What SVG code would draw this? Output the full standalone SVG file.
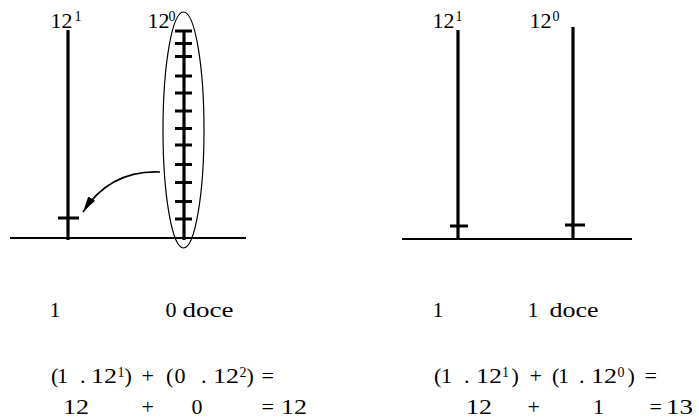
<svg xmlns="http://www.w3.org/2000/svg" width="699" height="418" viewBox="0 0 699 418">
<style>
text{font-family:Liberation Serif,Times New Roman,DejaVu Serif,serif;fill:#000}
.t{font-size:22px}
.s{font-size:14px}
.pole{stroke:#000;stroke-width:3.2;fill:none;stroke-linecap:butt}
.tick{stroke:#000;stroke-width:3;fill:none}
.base{stroke:#000;stroke-width:2;fill:none}
.con{stroke:#000;stroke-width:1.6;fill:none}
</style>
<defs>
<marker id="ah" markerUnits="userSpaceOnUse" markerWidth="18" markerHeight="10" refX="16" refY="4" orient="auto">
<path d="M0,0 L16,4 L0,8 z" fill="#000"/>
</marker>
</defs>
<rect width="699" height="418" fill="#fff"/>

<g id="left-panel">
<line class="base" x1="10" y1="238" x2="246" y2="238"/>
<g id="left-pole-12-1">
<line class="pole" x1="68" y1="30" x2="68" y2="240"/>
<line class="tick" x1="58" y1="218" x2="79" y2="218"/>
<text class="t" x="50.6" y="28">12</text><text class="s" x="74.5" y="21">1</text>
</g>
<g id="left-pole-12-0">
<line class="pole" x1="184" y1="30" x2="184" y2="240"/>
<g class="tick">
<line x1="175" y1="31" x2="192" y2="31"/>
<line x1="175" y1="43.5" x2="192" y2="43.5"/>
<line x1="175" y1="56.5" x2="192" y2="56.5"/>
<line x1="175" y1="76" x2="192" y2="76"/>
<line x1="175" y1="93" x2="192" y2="93"/>
<line x1="175" y1="111" x2="192" y2="111"/>
<line x1="175" y1="128.5" x2="192" y2="128.5"/>
<line x1="175" y1="145" x2="192" y2="145"/>
<line x1="175" y1="164.5" x2="192" y2="164.5"/>
<line x1="175" y1="182.5" x2="192" y2="182.5"/>
<line x1="175" y1="201.5" x2="192" y2="201.5"/>
<line x1="175" y1="219" x2="192" y2="219"/>
</g>
<text class="t" x="147.6" y="28">12</text><text class="s" x="168.5" y="21">0</text>
<ellipse cx="183.5" cy="130" rx="20.5" ry="118" fill="none" stroke="#000" stroke-width="1.2"/>
</g>
</g>

<g id="connectors">
<path class="con" d="M160,172 Q110,170 83,212" marker-end="url(#ah)"/>
</g>

<g id="right-panel">
<line class="base" x1="402" y1="239" x2="632" y2="239"/>
<g id="right-pole-12-1">
<line class="pole" x1="458" y1="30" x2="458" y2="240"/>
<line class="tick" x1="450" y1="226" x2="468" y2="226"/>
<text class="t" x="432.6" y="28">12</text><text class="s" x="455.5" y="21">1</text>
</g>
<g id="right-pole-12-0">
<line class="pole" x1="573" y1="27" x2="573" y2="240"/>
<line class="tick" x1="565" y1="225" x2="585" y2="225"/>
<text class="t" x="529.6" y="28">12</text><text class="s" x="552.5" y="21">0</text>
</g>
</g>

<g id="left-text">
<text class="t" x="49.6" y="317">1</text>
<text class="t" x="165.5" y="317">0</text>
<text class="t" x="182.5" y="317" textLength="51" lengthAdjust="spacingAndGlyphs">doce</text>
<text class="t" x="51" y="383">(</text>
<text class="t" x="57" y="383">1</text>
<text class="t" x="80" y="383">.</text>
<text class="t" x="91" y="383" textLength="26" lengthAdjust="spacingAndGlyphs">12</text>
<text class="s" x="117.5" y="377">1</text>
<text class="t" x="124.5" y="383">)</text>
<text class="t" x="141.5" y="383">+</text>
<text class="t" x="166" y="383">(</text>
<text class="t" x="174.5" y="383">0</text>
<text class="t" x="201" y="383">.</text>
<text class="t" x="213" y="383" textLength="26" lengthAdjust="spacingAndGlyphs">12</text>
<text class="s" x="239.5" y="377">2</text>
<text class="t" x="246.5" y="383">)</text>
<text class="t" x="261.5" y="383">=</text>
<text class="t" x="63" y="414" textLength="26" lengthAdjust="spacingAndGlyphs">12</text>
<text class="t" x="141.5" y="414">+</text>
<text class="t" x="191.5" y="414">0</text>
<text class="t" x="261.5" y="414">=</text>
<text class="t" x="281" y="414" textLength="26" lengthAdjust="spacingAndGlyphs">12</text>
</g>

<g id="right-text">
<text class="t" x="432.6" y="317">1</text>
<text class="t" x="527.6" y="317">1</text>
<text class="t" x="549.5" y="317" textLength="49" lengthAdjust="spacingAndGlyphs">doce</text>
<text class="t" x="434" y="383">(</text>
<text class="t" x="441" y="383">1</text>
<text class="t" x="464" y="383">.</text>
<text class="t" x="476" y="383" textLength="26" lengthAdjust="spacingAndGlyphs">12</text>
<text class="s" x="502" y="377">1</text>
<text class="t" x="511.5" y="383">)</text>
<text class="t" x="529.5" y="383">+</text>
<text class="t" x="552" y="383">(</text>
<text class="t" x="558" y="383">1</text>
<text class="t" x="579" y="383">.</text>
<text class="t" x="591" y="383" textLength="26" lengthAdjust="spacingAndGlyphs">12</text>
<text class="s" x="617.5" y="377">0</text>
<text class="t" x="627.5" y="383">)</text>
<text class="t" x="644.5" y="383">=</text>
<text class="t" x="466" y="414" textLength="26" lengthAdjust="spacingAndGlyphs">12</text>
<text class="t" x="527.5" y="414">+</text>
<text class="t" x="593" y="414">1</text>
<text class="t" x="649.5" y="414">=</text>
<text class="t" x="666" y="414" textLength="27" lengthAdjust="spacingAndGlyphs">13</text>
</g>
</svg>
